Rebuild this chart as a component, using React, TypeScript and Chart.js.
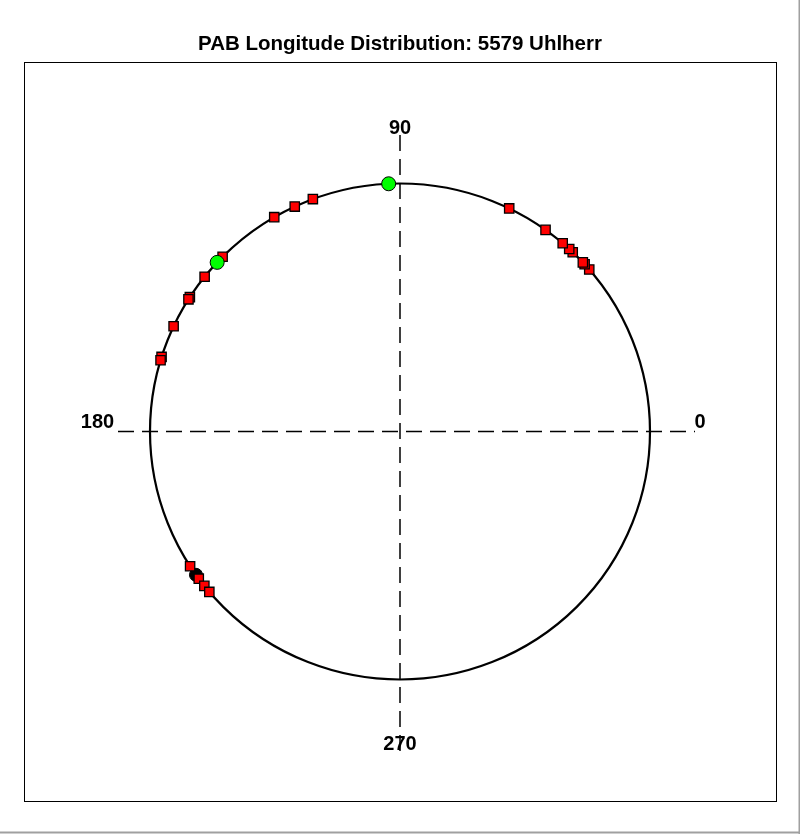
import React, { useEffect, useRef } from "react";
import { Chart, registerables } from "chart.js";

Chart.register(...registerables);

// Longitudes (degrees)
const redLongitudes = [
  40.8, 42.4, 43.0, 46.3, 47.4, 49.4, 54.4, 64.1,
  110.4, 114.9, 120.2, 135.2, 141.4, 147.2, 147.8, 154.9, 162.5, 163.3,
  212.9, 216.4, 218.5, 220.3,
];
const greenLongitudes = [92.6, 137.0];
const blackLongitudes = [215.3];

const axisLabels = ["0", "90", "180", "270"];
const axisLabelPositions = [
  { x: 1.2, y: 0.036 },
  { x: 0, y: 1.22 },
  { x: -1.21, y: 0.036 },
  { x: 0, y: -1.264 },
];
const horizontalAxisLine = [
  { x: -1.128, y: 0 },
  { x: 1.18, y: 0 },
];
const verticalAxisLine = [
  { x: 0, y: 1.196 },
  { x: 0, y: -1.304 },
];
const circleRadius = 1;

const toPoints = (degs: number[]) =>
  degs.map((d) => ({
    x: Math.cos((d * Math.PI) / 180),
    y: Math.sin((d * Math.PI) / 180),
  }));

const FONT = "'Liberation Sans', Arial, sans-serif";

export default function App() {
  const ref = useRef<HTMLCanvasElement | null>(null);

  useEffect(() => {
    document.body.style.margin = "0";
    const canvas = ref.current;
    if (!canvas) return;

    const decorPlugin = {
      id: "decor",
      beforeDatasetsDraw(chart: any) {
        const { ctx, chartArea, scales } = chart;
        const xs = scales.x;
        const ys = scales.y;
        const cx = xs.getPixelForValue(0);
        const cy = ys.getPixelForValue(0);
        const rx = Math.abs(xs.getPixelForValue(circleRadius) - cx);
        const ry = Math.abs(ys.getPixelForValue(circleRadius) - cy);
        ctx.save();
        // frame
        ctx.strokeStyle = "#000";
        ctx.lineWidth = 1;
        ctx.strokeRect(
          Math.round(chartArea.left) + 0.5,
          Math.round(chartArea.top) + 0.5,
          Math.round(chartArea.right - chartArea.left),
          Math.round(chartArea.bottom - chartArea.top)
        );
        // circle
        ctx.beginPath();
        ctx.lineWidth = 2.2;
        ctx.ellipse(cx, cy, rx, ry, 0, 0, Math.PI * 2);
        ctx.stroke();
        ctx.restore();
      },
      afterDraw(chart: any) {
        const { ctx, scales, width, height } = chart;
        ctx.save();
        ctx.fillStyle = "#000";
        ctx.font = `bold 20px ${FONT}`;
        ctx.textAlign = "center";
        ctx.textBaseline = "middle";
        axisLabels.forEach((t, i) => {
          const p = axisLabelPositions[i];
          ctx.fillText(
            t,
            scales.x.getPixelForValue(p.x),
            scales.y.getPixelForValue(p.y)
          );
        });
        // window edge lines
        ctx.strokeStyle = "#a0a0a0";
        ctx.lineWidth = 2;
        ctx.beginPath();
        ctx.moveTo(0, height - 1.5);
        ctx.lineTo(width, height - 1.5);
        ctx.moveTo(width - 0.5, 0);
        ctx.lineTo(width - 0.5, height);
        ctx.stroke();
        ctx.restore();
      },
    };

    const chart = new Chart(canvas, {
      type: "scatter",
      data: {
        datasets: [
          {
            label: "Green",
            data: toPoints(greenLongitudes),
            pointStyle: "circle",
            pointRadius: 7,
            backgroundColor: "#00ff00",
            borderColor: "#000",
            borderWidth: 1,
          },
          {
            label: "PAB",
            data: toPoints(redLongitudes),
            pointStyle: "rect",
            pointRadius: 6.6,
            backgroundColor: "#ff0000",
            borderColor: "#000",
            borderWidth: 1.3,
          },
          {
            label: "Black",
            data: toPoints(blackLongitudes),
            pointStyle: "circle",
            pointRadius: 6.5,
            backgroundColor: "#000",
            borderColor: "#000",
            borderWidth: 1,
          },
          {
            label: "hline",
            type: "line",
            data: horizontalAxisLine,
            borderColor: "#000",
            borderWidth: 1.5,
            borderDash: [16, 8],
            pointRadius: 0,
            fill: false,
          } as any,
          {
            label: "vline",
            type: "line",
            data: verticalAxisLine,
            borderColor: "#000",
            borderWidth: 1.5,
            borderDash: [16, 8],
            pointRadius: 0,
            fill: false,
          } as any,
        ],
      },
      options: {
        animation: false,
        responsive: false,
        devicePixelRatio: 1,
        layout: { padding: { left: 24, right: 24, top: 0, bottom: 33 } },
        scales: {
          x: { type: "linear", min: -1.504, max: 1.504, display: false },
          y: { type: "linear", min: -1.49, max: 1.49, display: false },
        },
        plugins: {
          legend: { display: false },
          tooltip: { enabled: false },
          title: {
            display: true,
            text: "PAB Longitude Distribution: 5579 Uhlherr",
            color: "#000",
            font: { family: FONT, size: 20.5, weight: "bold", lineHeight: 1.2 },
            padding: { top: 32, bottom: 5.4 },
          },
        },
      },
      plugins: [decorPlugin],
    });
    return () => chart.destroy();
  }, []);

  return <canvas ref={ref} width={800} height={834} style={{ display: "block" }} />;
}
